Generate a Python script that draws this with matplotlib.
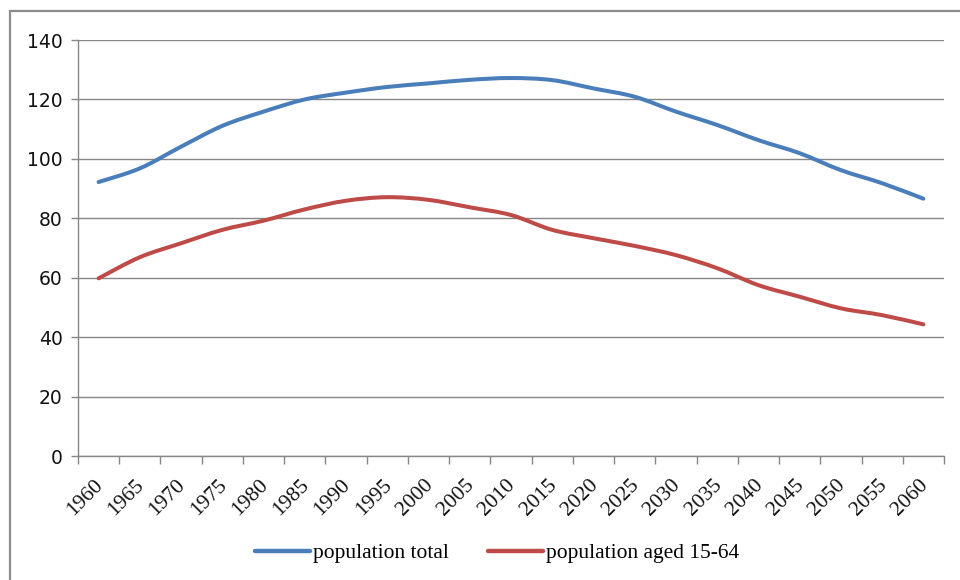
import numpy as np
import matplotlib
matplotlib.use('Agg')
import matplotlib.pyplot as plt
import matplotlib.transforms as mtransforms
from matplotlib.path import Path
from matplotlib.patches import PathPatch, Rectangle
from matplotlib.lines import Line2D

years = ['1960', '1965', '1970', '1975', '1980', '1985', '1990', '1995', '2000', '2005',
         '2010', '2015', '2020', '2025', '2030', '2035', '2040', '2045', '2050', '2055', '2060']
population_total = [92.2, 96.8, 104.1, 111.1, 115.9, 120.0, 122.3, 124.2, 125.4, 126.6,
                    127.2, 126.5, 123.7, 120.9, 115.9, 111.4, 106.3, 101.9, 96.2, 91.8, 86.6]
population_15_64 = [59.8, 66.9, 71.6, 76.1, 79.2, 83.0, 85.9, 87.1, 86.2, 83.7,
                    81.1, 76.1, 73.3, 70.7, 67.6, 63.2, 57.5, 53.6, 49.7, 47.4, 44.3]
series_names = ['population total', 'population aged 15-64']
series_colors = ['#4A7EBB', '#BE4B48']

grid_color = '#868686'
serif = ['Liberation Serif', 'DejaVu Serif']


def smooth_path(x, y):
    """Bezier path through the points, like a spreadsheet 'smoothed line'."""
    x = np.asarray(x, float)
    y = np.asarray(y, float)
    verts = [(x[0], y[0])]
    codes = [Path.MOVETO]
    n = len(x)
    for i in range(n - 1):
        x0, y0 = (x[i - 1], y[i - 1]) if i > 0 else (x[i], y[i])
        x3, y3 = (x[i + 2], y[i + 2]) if i + 2 < n else (x[i + 1], y[i + 1])
        c1 = (x[i] + (x[i + 1] - x0) / 6, y[i] + (y[i + 1] - y0) / 6)
        c2 = (x[i + 1] - (x3 - x[i]) / 6, y[i + 1] - (y3 - y[i]) / 6)
        verts += [c1, c2, (x[i + 1], y[i + 1])]
        codes += [Path.CURVE4] * 3
    return Path(verts, codes)


fig = plt.figure(figsize=(9.6, 5.8), dpi=100)
fig.patch.set_facecolor('white')

# chart border (runs off the right and bottom edges)
fig.patches.append(Rectangle((10 / 960, -0.05), 1.0, 1 - 11 / 580 + 0.05,
                             transform=fig.transFigure, fill=False,
                             edgecolor='#8C8C8C', linewidth=1.6))

ax = fig.add_axes([78 / 960, 1 - 456 / 580, (944 - 78) / 960, (456 - 40) / 580])
x = np.arange(len(years))

for vals, color in zip([population_total, population_15_64], series_colors):
    ax.add_patch(PathPatch(smooth_path(x, vals), facecolor='none', edgecolor=color,
                           linewidth=2.9, capstyle='round', joinstyle='round', zorder=3))

ax.set_xlim(-0.5, len(years) - 0.5)
ax.set_ylim(0, 140)
ax.set_yticks(np.arange(0, 141, 20))
ax.yaxis.grid(True, color=grid_color, linewidth=1.0)
ax.set_axisbelow(True)

for side in ['top', 'right']:
    ax.spines[side].set_visible(False)
for side in ['left', 'bottom']:
    ax.spines[side].set_color(grid_color)
    ax.spines[side].set_linewidth(1.0)

ax.tick_params(axis='y', length=5, width=1.0, color=grid_color, pad=6,
               labelsize=13.5, labelcolor='#111111')

# category labels at centres, tick marks at category boundaries
ax.set_xticks(x)
ax.set_xticklabels(years, rotation=45, ha='right', va='top', rotation_mode='anchor',
                   fontfamily=serif, fontsize=15.5, color='#111111')
ax.set_xticks(np.arange(-0.5, len(years)), minor=True)
ax.tick_params(axis='x', which='major', length=0, pad=14)
ax.tick_params(axis='x', which='minor', length=6, width=1.0, color=grid_color)
shift = mtransforms.ScaledTranslation(-5 / 100, 0, fig.dpi_scale_trans)
for lbl in ax.get_xticklabels():
    lbl.set_transform(lbl.get_transform() + shift)

handles = [Line2D([], [], color=c, linewidth=3.2, solid_capstyle='round') for c in series_colors]
fig.legend(handles, series_names, loc='center', bbox_to_anchor=(497 / 960, 1 - 553 / 580),
           ncol=2, frameon=False, prop={'family': serif, 'size': 15.5},
           handlelength=2.56, handletextpad=0.14, columnspacing=1.8)

fig.savefig('out.png', dpi=100)
